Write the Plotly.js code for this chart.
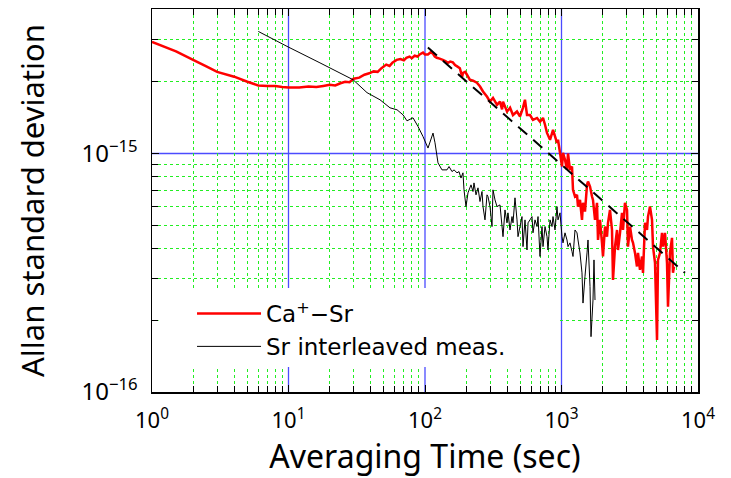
<!DOCTYPE html>
<html>
<head>
<meta charset="utf-8">
<script src="https://cdn.plot.ly/plotly-3.0.1.min.js"></script>
<style>html,body{margin:0;padding:0;background:#fff;}#chart{width:731px;height:478px;}</style>
</head>
<body>
<div id="chart"></div>
<script>
// Ca+ - Sr Allan deviation
const caSrTau = [1,1.5,2,2.5,3,4,5,6,7,8,9,10,12,14,16,18,20,22,24,26,28,30,33,36,39,42,45,48,52,55,58,62,66,70,73,77,80,84,88,92,96.7,100,105,110,114.5,118,122,128,135,141,147,153,160,166,172,180,187,190,197,203,213,225,240,253,266,285,299,315,337,354,367,373,399,420,441,472,497,522,540,559,588,618,662,696,732,757,783,824,867,927,943,975,1009,1026,1061,1097,1116,1154,1194,1214,1256,1299,1321,1366,1413,1437,1486,1538,1564,1618,1673,1701,1760,1820,1851,1914,1980,2014,2083,2154,2191,2266,2344,2384,2466,2551,2594,2683,2775,2822,2918,3020,3070,3177,3285,3342,3455,3573,3635,3758,3888,3954,4090,4231,4302,4450,4603,4681,4842,5009,5093,5268,5449,5541,5731,5929,6029,6236,6450,6559,6670];
const caSrSigma = [2.94e-15,2.68e-15,2.47e-15,2.32e-15,2.20e-15,2.10e-15,2.00e-15,1.93e-15,1.92e-15,1.92e-15,1.90e-15,1.89e-15,1.89e-15,1.91e-15,1.90e-15,1.92e-15,1.94e-15,1.93e-15,1.97e-15,2.00e-15,1.99e-15,2.06e-15,2.08e-15,2.14e-15,2.17e-15,2.21e-15,2.20e-15,2.28e-15,2.36e-15,2.33e-15,2.41e-15,2.47e-15,2.49e-15,2.46e-15,2.52e-15,2.55e-15,2.51e-15,2.57e-15,2.55e-15,2.61e-15,2.65e-15,2.60e-15,2.60e-15,2.66e-15,2.62e-15,2.55e-15,2.52e-15,2.50e-15,2.47e-15,2.44e-15,2.40e-15,2.43e-15,2.41e-15,2.35e-15,2.32e-15,2.28e-15,2.10e-15,2.18e-15,2.20e-15,2.14e-15,2.04e-15,2.02e-15,1.98e-15,1.91e-15,1.82e-15,1.73e-15,1.65e-15,1.71e-15,1.60e-15,1.65e-15,1.53e-15,1.65e-15,1.50e-15,1.555e-15,1.45e-15,1.50e-15,1.43e-15,1.555e-15,1.68e-15,1.45e-15,1.45e-15,1.385e-15,1.41e-15,1.36e-15,1.41e-15,1.32e-15,1.22e-15,1.142e-15,1.257e-15,1.109e-15,1.142e-15,1.007e-15,0.882e-15,1.007e-15,0.941e-15,0.854e-15,1.0e-15,0.854e-15,0.882e-15,0.704e-15,0.660e-15,0.671e-15,0.599e-15,0.639e-15,0.527e-15,0.621e-15,0.571e-15,0.739e-15,0.763e-15,0.727e-15,0.660e-15,0.639e-15,0.527e-15,0.621e-15,0.434e-15,0.527e-15,0.422e-15,0.370e-15,0.494e-15,0.448e-15,0.512e-15,0.580e-15,0.478e-15,0.295e-15,0.407e-15,0.478e-15,0.394e-15,0.465e-15,0.564e-15,0.478e-15,0.621e-15,0.580e-15,0.407e-15,0.494e-15,0.434e-15,0.422e-15,0.383e-15,0.336e-15,0.383e-15,0.325e-15,0.370e-15,0.316e-15,0.512e-15,0.478e-15,0.544e-15,0.599e-15,0.527e-15,0.407e-15,0.348e-15,0.1653e-15,0.358e-15,0.383e-15,0.465e-15,0.407e-15,0.465e-15,0.348e-15,0.228e-15,0.383e-15,0.443e-15,0.316e-15,0.336e-15];

// Sr interleaved measurement
const srTau = [6.01,9.92,17.0,29.7,37.6,46.8,55.4,62.4,69.0,73.8,81.7,88.9,96.7,105.2,114.5,118.4,124.5,133.2,144.9,149.9,157.7,163.2,171.6,177.5,183.5,189.7,193.1,199.7,206.5,217.3,224.7,228.5,236.4,244.5,252.9,261.6,266,275.1,284.6,289.4,299.4,309.6,314.9,325.7,336.9,354.3,372.8,385.5,398.7,405.5,419.5,433.9,441.3,456.3,472.1,480.2,496.6,513.5,522.4,540.3,558.8,568.5,587.5,608,618,639.6,661.5,672.9,695.9,719.7,732,757,783,796,824,852,866.6,896.4,926.8,942.8,975,1008.5,1025.6,1061,1097,1116,1154,1194,1214,1256,1299,1321,1366,1413,1437,1486,1538,1564,1618,1645,1701,1730,1760];
const srSigma = [3.25e-15,2.80e-15,2.40e-15,2.04e-15,1.80e-15,1.68e-15,1.555e-15,1.525e-15,1.453e-15,1.371e-15,1.412e-15,1.298e-15,1.178e-15,1.054e-15,1.218e-15,1.109e-15,0.914e-15,0.854e-15,0.854e-15,0.882e-15,0.840e-15,0.854e-15,0.830e-15,0.840e-15,0.789e-15,0.830e-15,0.704e-15,0.599e-15,0.684e-15,0.739e-15,0.693e-15,0.753e-15,0.671e-15,0.718e-15,0.629e-15,0.693e-15,0.599e-15,0.527e-15,0.671e-15,0.660e-15,0.599e-15,0.494e-15,0.704e-15,0.639e-15,0.599e-15,0.609e-15,0.448e-15,0.580e-15,0.512e-15,0.564e-15,0.478e-15,0.544e-15,0.512e-15,0.652e-15,0.527e-15,0.448e-15,0.494e-15,0.544e-15,0.407e-15,0.527e-15,0.394e-15,0.512e-15,0.527e-15,0.544e-15,0.465e-15,0.527e-15,0.494e-15,0.544e-15,0.370e-15,0.494e-15,0.407e-15,0.494e-15,0.448e-15,0.394e-15,0.527e-15,0.494e-15,0.544e-15,0.478e-15,0.599e-15,0.527e-15,0.564e-15,0.448e-15,0.422e-15,0.465e-15,0.434e-15,0.407e-15,0.422e-15,0.388e-15,0.370e-15,0.478e-15,0.465e-15,0.434e-15,0.383e-15,0.316e-15,0.236e-15,0.305e-15,0.383e-15,0.434e-15,0.277e-15,0.1706e-15,0.243e-15,0.358e-15,0.243e-15];

// tau^-1/2 guide line (end points)
const fitTau = [105, 8030];
const fitSigma = [2.78e-15, 3.16e-16];

// axis ticks
const xTickVals = [1, 10, 100, 1000, 10000];
const xTickText = ['10<sup>0</sup>', '10<sup>1</sup>', '10<sup>2</sup>', '10<sup>3</sup>', '10<sup>4</sup>'];
const xMinorVals = [2,3,4,5,6,7,8,9,20,30,40,50,60,70,80,90,200,300,400,500,600,700,800,900,2000,3000,4000,5000,6000,7000,8000,9000];
const yTickVals = [1e-16, 1e-15];
const yTickText = ['10<sup>\u221216</sup>', '10<sup>\u221215</sup>'];
const yMinorVals = [2e-16,3e-16,4e-16,5e-16,6e-16,7e-16,8e-16,9e-16,2e-15,3e-15,4e-15];

const FONT = 'Noto Sans, Liberation Sans, Arial, sans-serif';
const LEGFONT = 'DejaVu Sans, Noto Sans, sans-serif';
const BLUE = '#4b4bff';

const traces = [
  {x: caSrTau, y: caSrSigma, type: 'scatter', mode: 'lines', name: 'Ca<sup>+</sup>\u2212Sr',
   line: {color: '#ff0000', width: 2.5, simplify: false}},
  {x: srTau, y: srSigma, type: 'scatter', mode: 'lines', name: 'Sr interleaved meas.',
   line: {color: '#000000', width: 1, simplify: false}},
  {x: fitTau, y: fitSigma, type: 'scatter', mode: 'lines', showlegend: false,
   line: {color: '#000000', width: 2, dash: '12px,8px'}}
];

const axisCommon = {
  type: 'log', tickmode: 'array', ticks: 'inside', ticklen: 7, tickwidth: 1, tickcolor: '#000',
  showline: true, linecolor: '#000', linewidth: 1.5, mirror: 'allticks',
  showgrid: false, zeroline: false
};

// decade grid lines (blue), positions in paper fractions of the log axes
const vDecades = [0.25, 0.5, 0.75];
const hDecades = [1 / 1.606];
const shapes = [];
vDecades.forEach(p => shapes.push({type: 'line', xref: 'paper', yref: 'paper', x0: p, x1: p, y0: 0, y1: 1,
  line: {color: BLUE, width: 1.3}, layer: 'below'}));
hDecades.forEach(p => shapes.push({type: 'line', xref: 'paper', yref: 'paper', x0: 0, x1: 1, y0: p, y1: p,
  line: {color: BLUE, width: 1.3}, layer: 'below'}));
// legend background patch
shapes.push({type: 'rect', xref: 'paper', yref: 'paper', x0: 0.012, x1: 0.7436, y0: 0.0653, y1: 0.2715,
  fillcolor: '#ffffff', line: {width: 0}, layer: 'above'});

const layout = {
  width: 731, height: 478,
  margin: {l: 152, r: 33, t: 9, b: 86},
  paper_bgcolor: '#fff', plot_bgcolor: '#fff',
  font: {family: FONT, color: '#000'},
  xaxis: Object.assign({}, axisCommon, {
    range: [0, 4], tickvals: xTickVals, ticktext: xTickText,
    tickfont: {family: FONT, size: 22, color: '#000'},
    ticklabelstandoff: 8,
    minor: {tickmode: 'array', tickvals: xMinorVals, ticks: 'inside', ticklen: 6, tickcolor: '#000',
            showgrid: true, gridcolor: '#22ee22', griddash: 'dot', gridwidth: 1},
    title: {text: 'Averaging Time (sec)', font: {family: FONT, size: 32, color: '#000'}, standoff: 10}
  }),
  yaxis: Object.assign({}, axisCommon, {
    range: [-16, -14.394], tickvals: yTickVals, ticktext: yTickText,
    tickfont: {family: FONT, size: 24, color: '#000'},
    ticklabelstandoff: 8,
    minor: {tickmode: 'array', tickvals: yMinorVals, ticks: 'inside', ticklen: 6, tickcolor: '#000',
            showgrid: true, gridcolor: '#22ee22', griddash: 'dot', gridwidth: 1},
    title: {text: 'Allan standard deviation', font: {family: FONT, size: 31, color: '#000'}, standoff: 27}
  }),
  legend: {x: 0.0733, y: 0.261, xanchor: 'left', yanchor: 'top', bgcolor: 'rgba(0,0,0,0)',
           font: {family: LEGFONT, size: 23, color: '#000'}, itemwidth: 64, tracegroupgap: 0},
  shapes: shapes,
  showlegend: true
};

Plotly.newPlot('chart', traces, layout, {displayModeBar: false, staticPlot: true});
</script>
</body>
</html>
